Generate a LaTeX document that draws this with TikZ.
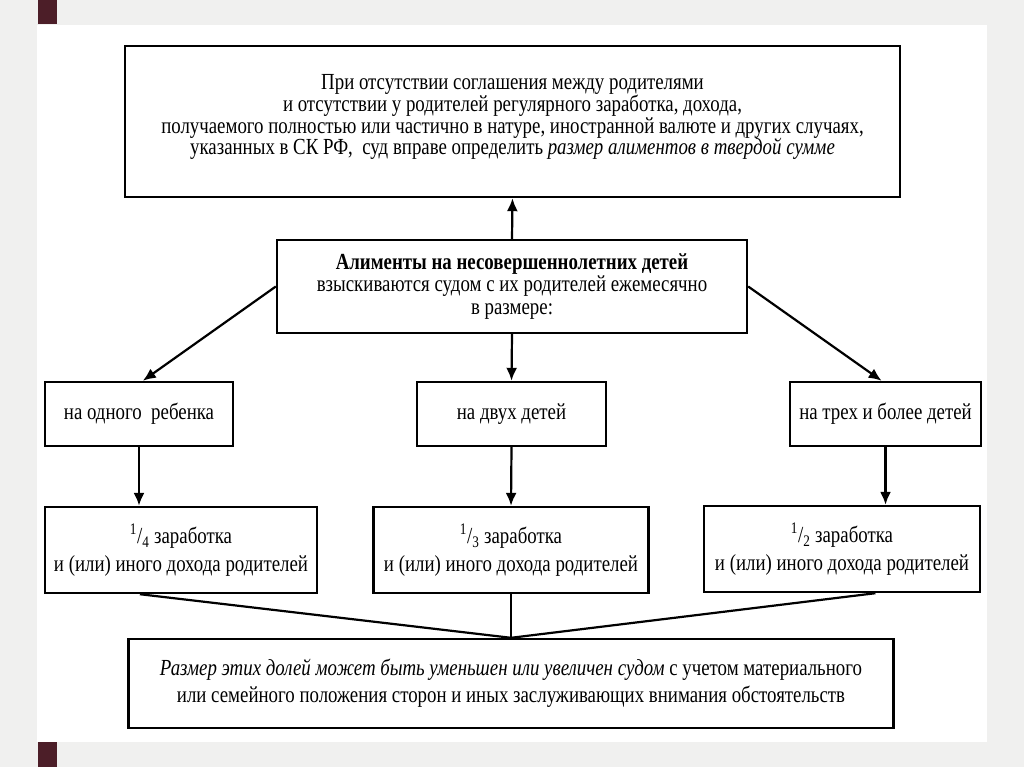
\documentclass[tikz,border=0pt]{standalone}
\usepackage{fontspec}
\setmainfont{Liberation Serif}[FakeStretch=0.82]
\usepackage{tikz}
\usetikzlibrary{calc,positioning,arrows.meta}

\definecolor{slidegrey}{RGB}{240,240,239}
\definecolor{slidemark}{RGB}{76,30,40}

\tikzset{
  box/.style={draw=black,line width=2.4pt,rectangle,align=center,inner sep=2pt,
    font=\fontsize{23}{21.7}\selectfont},
  arr/.style={line width=2.2pt,-{Latex[length=13pt,width=11pt]}},
  link/.style={line width=2.2pt}
}

\begin{document}
\begin{tikzpicture}[x=1pt,y=-1pt]
% slide
\fill[slidegrey] (0,0) rectangle (1024,767);
\fill[white] (37,25) rectangle (987,742);
\fill[slidemark] (38,0) rectangle (57,24);
\fill[slidemark] (38,742) rectangle (57,767);
\useasboundingbox (0,0) rectangle (1024,767);

\node (top) at (512.5,121.5) [box,minimum width=775pt,minimum height=151pt] {%
При отсутствии соглашения между родителями\\
и отсутствии у родителей регулярного заработка, дохода,\\
получаемого полностью или частично в натуре, иностранной валюте и других случаях,\\
указанных в СК РФ,\ \ суд вправе определить \textit{размер алиментов в твердой сумме}\\[-8pt]};
\node (mid) at (512,286.5) [box,minimum width=470pt,minimum height=93pt] {%
\textbf{Алименты на несовершеннолетних детей}\\[1pt]
взыскиваются судом с их родителей ежемесячно\\[1pt]
в размере:};

\node (one) at (139,414) [box,minimum width=188pt,minimum height=64pt] {на одного\ \ ребенка};
\node (two) at (511.5,414) [box,minimum width=189pt,minimum height=64pt] {на двух детей};
\node (three) at (885.5,414) [box,minimum width=191pt,minimum height=64pt] {на трех и более детей};

\node (quarter) at (181,550) [box,minimum width=272pt,minimum height=86pt] {%
\textsuperscript{1}/\textsubscript{4} заработка\\[6pt]
и (или) иного дохода родителей};
\node (third) at (511,550) [box,minimum width=275pt,minimum height=86pt] {%
\textsuperscript{1}/\textsubscript{3} заработка\\[6pt]
и (или) иного дохода родителей};
\node (half) at (842,549) [box,minimum width=276pt,minimum height=86pt] {%
\textsuperscript{1}/\textsubscript{2} заработка\\[6pt]
и (или) иного дохода родителей};

\node (share) at (511,683.5) [box,minimum width=765pt,minimum height=89pt] {%
\textit{Размер этих долей может быть уменьшен или увеличен судом} с учетом материального\\[5pt]
или семейного положения сторон и иных заслуживающих внимания обстоятельств};

\draw[arr] (mid.north) -- (top.south);
\draw[arr] (mid.west) -- ($(one.north west)!0.52!(one.north east)$);
\draw[arr] (mid.south) -- (two.north);
\draw[arr] (mid.east) -- ($(three.north west)!0.48!(three.north east)$);

\draw[arr] (one.south) -- (one.south |- quarter.north);
\draw[arr] (two.south) -- (third.north);
\draw[arr] (three.south) -- (three.south |- half.north);

\draw[link] ($(quarter.south west)!0.35!(quarter.south east)$) -- (share.north);
\draw[link] (third.south) -- (share.north);
\draw[link] ($(half.south west)!0.62!(half.south east)$) -- (share.north);
\end{tikzpicture}
\end{document}
